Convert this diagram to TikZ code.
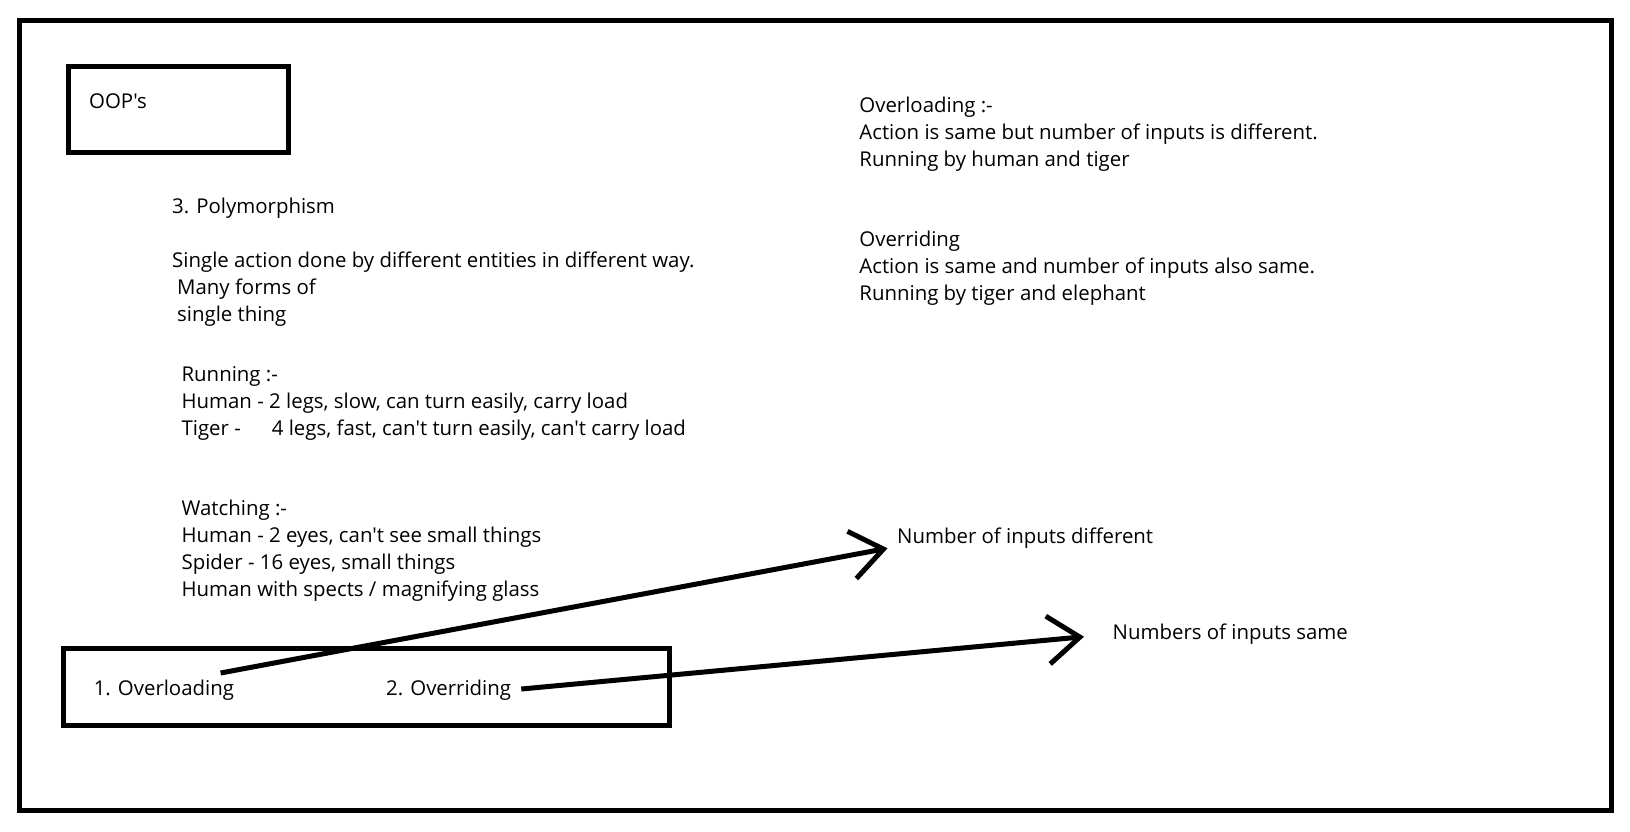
\documentclass[tikz,border=0pt]{standalone}
\usepackage{fontspec}
\setmainfont{Open Sans}[Ligatures=TeXOff]
\usetikzlibrary{arrows.meta}
\tikzset{
  txt/.style={anchor=base west, inner sep=0pt, align=left, font=\fontsize{20.4}{27}\selectfont},
  box/.style={draw=black, line width=5pt, inner sep=0pt, outer sep=0pt, anchor=north west},
  pointer/.style={draw=black, line width=5pt, -{Straight Barb[length=32pt,width=48pt]}}
}
\begin{document}
\begin{tikzpicture}[x=1pt,y=-1pt]
\useasboundingbox (0,0) rectangle (1630,831);
% frames
\node[box, minimum width=1592pt, minimum height=790pt] (frame) at (19.5,20.5) {};
\node[box, minimum width=220pt, minimum height=86pt] (oopbox) at (68,66.5) {};
\node[box, minimum width=606pt, minimum height=77.5pt] (kinds) at (63,648) {};
% left column (multi-line nodes sit on their last line)
\node[txt] (oop) at (89,108) {OOP's};
\node[txt] (poly) at (172,213.3) {3. Polymorphism};
\node[txt] (def) at (172,321.7) {Single action done by different entities in different way.\\\hspace{5pt}Many forms of\\\hspace{5pt}single thing};
\node[txt] (run) at (181.4,435) {Running :-\\Human - 2 legs, slow, can turn easily, carry load\\Tiger -\hspace{31pt}4 legs, fast, can't turn easily, can't carry load};
\node[txt] (watch) at (181.4,596) {Watching :-\\Human - 2 eyes, can't see small things\\Spider - 16 eyes, small things\\Human with spects / magnifying glass};
\node[txt] (ovl) at (93.6,695) {1. Overloading};
\node[txt] (ovr) at (386,695) {2. Overriding};
% right column
\node[txt] (ovldef) at (859.2,166) {Overloading :-\\Action is same but number of inputs is different.\\Running by human and tiger};
\node[txt] (ovrdef) at (859.2,300) {Overriding\\Action is same and number of inputs also same.\\Running by tiger and elephant};
\node[txt] (diff) at (897,543.3) {Number of inputs different};
\node[txt] (same) at (1112.5,639.3) {Numbers of inputs same};
% arrows
\coordinate (s1) at ([xshift=127pt,yshift=22pt]ovl.base west);
\coordinate (s2) at ([xshift=10pt,yshift=6pt]ovr.base east);
\draw[pointer] (s1) -- ([xshift=-9.5pt,yshift=-5pt]diff.base west);
\draw[pointer] (s2) -- ([xshift=-28.5pt,yshift=2.6pt]same.base west);
\end{tikzpicture}
\end{document}
